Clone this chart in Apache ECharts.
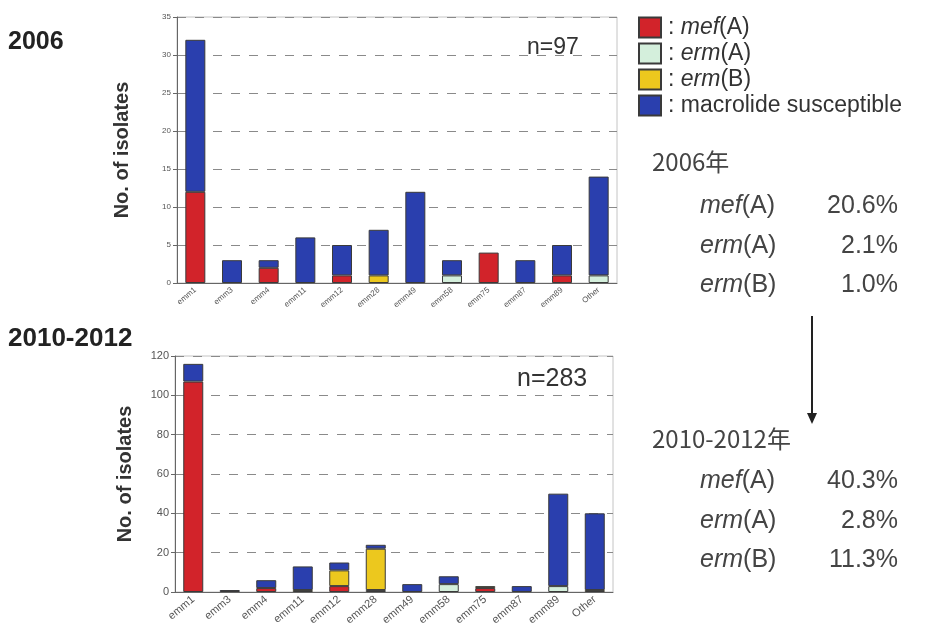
<!DOCTYPE html>
<html>
<head>
<meta charset="utf-8">
<script src="https://cdn.jsdelivr.net/npm/echarts@6/dist/echarts.min.js"></script>
<style>
  html, body { margin: 0; padding: 0; background: #fff; }
  #chart { width: 926px; height: 636px; }
</style>
</head>
<body>
<div id="chart"></div>
<script>
// emm types shown on both panels
const categories = ['emm1', 'emm3', 'emm4', 'emm11', 'emm12', 'emm28', 'emm49', 'emm58', 'emm75', 'emm87', 'emm89', 'Other'];

// 2006 isolates (n=97)
const mefA2006 = [12, 0, 2, 0, 1, 0, 0, 0, 4, 0, 1, 0];
const ermA2006 = [0, 0, 0, 0, 0, 0, 0, 1, 0, 0, 0, 1];
const ermB2006 = [0, 0, 0, 0, 0, 1, 0, 0, 0, 0, 0, 0];
const susc2006 = [20, 3, 1, 6, 4, 6, 12, 2, 0, 3, 4, 13];

// 2010-2012 isolates (n=283)
const mefA2010 = [107, 0, 2, 0, 3, 0, 0, 0, 2, 0, 0, 0];
const ermA2010 = [0, 0, 0, 0, 0, 1, 0, 4, 0, 0, 3, 0];
const ermB2010 = [0, 0, 0, 1, 8, 21, 0, 0, 1, 0, 0, 1];
const susc2010 = [9, 1, 4, 12, 4, 2, 4, 4, 0, 3, 47, 39];

// y-axis tick settings
const yMax2006 = 35, yStep2006 = 5;
const yMax2010 = 120, yStep2010 = 20;

// resistance-gene rates
const rates2006 = [['mef', '(A)', '20.6%'], ['erm', '(A)', '2.1%'], ['erm', '(B)', '1.0%']];
const rates2010 = [['mef', '(A)', '40.3%'], ['erm', '(A)', '2.8%'], ['erm', '(B)', '11.3%']];

const seriesDefs = [
  { name: 'mef(A)', color: '#d2232a', d2006: mefA2006, d2010: mefA2010 },
  { name: 'erm(A)', color: '#d4efdc', d2006: ermA2006, d2010: ermA2010 },
  { name: 'erm(B)', color: '#ecc81e', d2006: ermB2006, d2010: ermB2010 },
  { name: 'macrolide susceptible', color: '#2a3fae', d2006: susc2006, d2010: susc2010 }
];

const FONT = '"Liberation Sans", Arial, sans-serif';
const textCol = '#333';
const rateCol = '#444';

function nz(arr) { return arr.map(v => (v === 0 ? '-' : v)); }

const series = [];
seriesDefs.forEach(s => {
  series.push({
    name: s.name, type: 'bar', stack: 'a', xAxisIndex: 0, yAxisIndex: 0,
    barWidth: 20, data: nz(s.d2006),
    itemStyle: { color: s.color, borderColor: '#3a3a3a', borderWidth: 1 }
  });
  series.push({
    name: s.name, type: 'bar', stack: 'b', xAxisIndex: 1, yAxisIndex: 1,
    barWidth: 20, data: nz(s.d2010),
    itemStyle: { color: s.color, borderColor: '#3a3a3a', borderWidth: 1 }
  });
});

function xAxis(gridIndex, fs) {
  return {
    type: 'category', gridIndex, data: categories,
    axisLine: { lineStyle: { color: '#666' } },
    axisTick: { length: 5, lineStyle: { color: '#666' } },
    axisLabel: { rotate: 40, fontSize: fs, color: '#555', fontFamily: FONT, margin: 6 }
  };
}
function yAxis(gridIndex, max, step, fs) {
  return {
    type: 'value', gridIndex, min: 0, max, interval: step,
    name: 'No. of isolates', nameLocation: 'middle',
    nameGap: gridIndex === 0 ? 45 : 40,
    nameTextStyle: { fontSize: 20, fontWeight: 'bold', color: textCol, fontFamily: FONT },
    axisLine: { show: true, lineStyle: { color: '#666' } },
    axisTick: { show: true, length: 4, lineStyle: { color: '#666' } },
    axisLabel: { fontSize: fs, color: '#555', fontFamily: FONT, margin: 6 },
    splitLine: { lineStyle: { type: [9, 9], color: '#8a8a8a' } }
  };
}

function rateRows(rows, y0) {
  const out = [];
  rows.forEach((r, i) => {
    const y = y0 + i * 39.5;
    out.push({
      type: 'text', left: 700, top: y - 14,
      style: {
        text: '{i|' + r[0] + '}{n|' + r[1] + '}',
        rich: {
          i: { fontSize: 25, fontStyle: 'italic', fill: rateCol, fontFamily: FONT },
          n: { fontSize: 25, fill: rateCol, fontFamily: FONT }
        }
      }
    });
    out.push({
      type: 'text', right: 28, top: y - 14,
      style: { text: r[2], fontSize: 25, fill: rateCol, fontFamily: FONT, textAlign: 'right' }
    });
  });
  return out;
}

const option = {
  animation: false,
  backgroundColor: '#fff',
  textStyle: { fontFamily: FONT },
  grid: [
    { left: 177, top: 17, width: 440, height: 266, show: true, borderColor: '#c4c4c4', borderWidth: 1 },
    { left: 175, top: 356, width: 438, height: 236, show: true, borderColor: '#c4c4c4', borderWidth: 1 }
  ],
  xAxis: [xAxis(0, 8), xAxis(1, 11)],
  yAxis: [yAxis(0, yMax2006, yStep2006, 8), yAxis(1, yMax2010, yStep2010, 11)],
  legend: {
    orient: 'vertical', left: 633, top: 11,
    icon: 'rect',
    itemWidth: 22, itemHeight: 20, itemGap: 3,
    data: seriesDefs.map(s => s.name),
    formatter: function (name) {
      if (name === 'macrolide susceptible') return '{n|: macrolide susceptible}';
      const m = name.match(/^([a-z]+)(\(.\))$/);
      return '{n|: }{i|' + m[1] + '}{n|' + m[2] + '}';
    },
    textStyle: {
      padding: [0, 0, 0, 2],
      rich: {
        i: { fontSize: 23, lineHeight: 20, fontStyle: 'italic', color: textCol, fontFamily: FONT },
        n: { fontSize: 23, lineHeight: 20, color: textCol, fontFamily: FONT }
      }
    }
  },
  graphic: [
    { type: 'text', left: 8, top: 30, style: { text: '2006', fontSize: 25, fontWeight: 'bold', fill: '#222', fontFamily: FONT } },
    { type: 'text', left: 8, top: 326, style: { text: '2010-2012', fontSize: 26, fontWeight: 'bold', fill: '#222', fontFamily: FONT } },
    { type: 'text', left: 527, top: 36, style: { text: 'n=97', fontSize: 23, fill: '#333', fontFamily: FONT } },
    { type: 'text', left: 517, top: 367, style: { text: 'n=283', fontSize: 25, fill: '#333', fontFamily: FONT } },
    { type: 'text', left: 652, top: 150, style: { text: '2006年', fontSize: 24, fill: rateCol, fontFamily: '"Noto Sans CJK JP", ' + FONT } },
    { type: 'text', left: 652, top: 427, style: { text: '2010-2012年', fontSize: 24, fill: rateCol, fontFamily: '"Noto Sans CJK JP", ' + FONT } },
    { type: 'line', shape: { x1: 812, y1: 316, x2: 812, y2: 416 }, style: { stroke: '#222', lineWidth: 2 } },
    { type: 'polygon', shape: { points: [[807, 413], [817, 413], [812, 424]] }, style: { fill: '#222' } }
  ].concat(rateRows(rates2006, 208), rateRows(rates2010, 483)),
  series
};

const chart = echarts.init(document.getElementById('chart'), null, { renderer: 'canvas' });
chart.setOption(option);
</script>
</body>
</html>
